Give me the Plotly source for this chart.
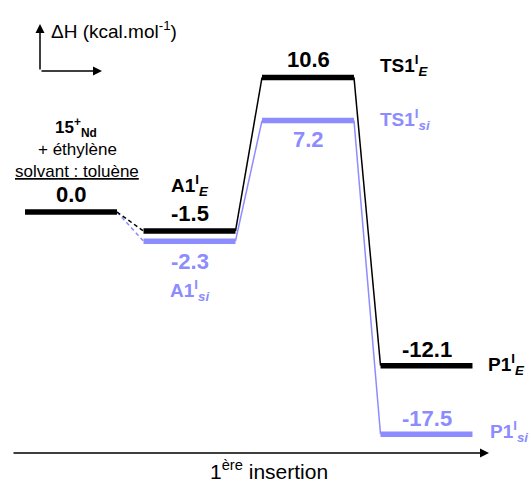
import plotly.graph_objects as go

# ---- data ----
stages = ["15+Nd + éthylène", "A1", "TS1", "P1"]
dH_E = [0.0, -1.5, 10.6, -12.1]      # black pathway (E)
dH_si = [0.0, -2.3, 7.2, -17.5]      # blue pathway (si)
names_E = ["", "A1<sup>I</sup><sub><i>E</i></sub>", "TS1<sup>I</sup><sub><i>E</i></sub>", "P1<sup>I</sup><sub><i>E</i></sub>"]
names_si = ["", "A1<sup>I</sup><sub><i>si</i></sub>", "TS1<sup>I</sup><sub><i>si</i></sub>", "P1<sup>I</sup><sub><i>si</i></sub>"]

BLACK = "#000000"
BLUE = "#8c8cff"
FONT = "Arial, 'Liberation Sans', sans-serif"
W, H = 531, 484
HW = 0.388  # half width of a level bar (stage units)

fig = go.Figure()


def level_trace(vals, idx, color):
    xs, ys = [], []
    for i in idx:
        xs += [i - HW, i + HW, None]
        ys += [vals[i], vals[i], None]
    return go.Scatter(x=xs, y=ys, mode="lines", line=dict(color=color, width=5.5),
                      hoverinfo="skip", showlegend=False)


def connector_traces(vals, color):
    out = []
    for i in range(len(vals) - 1):
        out.append(go.Scatter(x=[i + HW, i + 1 - HW], y=[vals[i], vals[i + 1]], mode="lines",
                              line=dict(color=color, width=1.5, dash="4px,3px" if i == 0 else "solid"),
                              hoverinfo="skip", showlegend=False))
    return out


for t in connector_traces(dH_si, BLUE):
    fig.add_trace(t)
fig.add_trace(level_trace(dH_si, [1, 2, 3], BLUE))
for t in connector_traces(dH_E, BLACK):
    fig.add_trace(t)
fig.add_trace(level_trace(dH_E, [0, 1, 2, 3], BLACK))


def ann(x, y, text, color, size=22, bold=True, xanchor="center", xshift=0, yshift=0):
    fig.add_annotation(x=x, y=y, xref="x", yref="y", text=f"<b>{text}</b>" if bold else text,
                       showarrow=False, xanchor=xanchor, yanchor="middle",
                       xshift=xshift, yshift=yshift,
                       font=dict(family=FONT, size=size, color=color))


# value labels
ann(0, dH_E[0], f"{dH_E[0]:.1f}", BLACK, yshift=18)
ann(1, dH_E[1], f"{dH_E[1]:.1f}", BLACK, yshift=18)
ann(2, dH_E[2], f"{dH_E[2]:.1f}", BLACK, yshift=18)
ann(3, dH_E[3], f"{dH_E[3]:.1f}", BLACK, yshift=16)
ann(1, dH_si[1], f"{dH_si[1]:.1f}", BLUE, yshift=-20)
ann(2, dH_si[2], f"{dH_si[2]:.1f}", BLUE, yshift=-19)
ann(3, dH_si[3], f"{dH_si[3]:.1f}", BLUE, yshift=16)

# species labels
ann(1, dH_E[1], names_E[1], BLACK, size=19, yshift=46)
ann(1, dH_si[1], names_si[1], BLUE, size=19, yshift=-49)
ann(2 + HW, dH_E[2], names_E[2], BLACK, size=19, xanchor="left", xshift=24, yshift=12)
ann(2 + HW, dH_si[2], names_si[2], BLUE, size=19, xanchor="left", xshift=24, yshift=1)
ann(3 + HW, dH_E[3], names_E[3], BLACK, size=19, xanchor="left", xshift=14, yshift=1)
ann(3 + HW, dH_si[3], names_si[3], BLUE, size=19, xanchor="left", xshift=16, yshift=3)


def px(x):
    return x / W


def py(y):
    return 1 - y / H


def paper_text(x, y, text, size, xanchor="center", **font_extra):
    fig.add_annotation(x=px(x), y=py(y), xref="paper", yref="paper", showarrow=False,
                       xanchor=xanchor, yanchor="middle", text=text,
                       font=dict(family=FONT, size=size, color=BLACK, **font_extra))


def paper_arrow(x, y, ax, ay):
    fig.add_annotation(x=px(x), y=py(y), xref="paper", yref="paper", ax=ax, ay=ay,
                       xanchor="center", yanchor="middle",
                       showarrow=True, arrowhead=2, arrowsize=1.2, arrowwidth=1.5,
                       arrowcolor=BLACK, text="")


# top-left axis glyph
paper_arrow(40, 24, 0, 47)
paper_arrow(102, 71, -62, 0)
paper_text(49, 30, "ΔH (kcal.mol<sup>-1</sup>)", 19, xanchor="left")

# reactant description
paper_text(76, 127, "<b>15<sup>+</sup><sub>Nd</sub></b>", 17)
paper_text(77, 150, "+ éthylène", 17)
paper_text(77, 172, "solvant : toluène", 17, lineposition="under")

# bottom reaction-coordinate arrow
paper_arrow(489, 453, -477, 0)
paper_text(269, 470, "1<sup>ère</sup> insertion", 21)

# y scale: 0 -> 212 px, 12.7 px per kcal/mol
y_top = 212 / 12.7
y_bot = (212 - H) / 12.7
x_left = -71 / 118.5
x_right = 3 + (W - 426.5) / 118.5

fig.update_layout(
    width=W, height=H, margin=dict(l=0, r=0, t=0, b=0),
    paper_bgcolor="white", plot_bgcolor="white",
    xaxis=dict(range=[x_left, x_right], visible=False, fixedrange=True),
    yaxis=dict(range=[y_bot, y_top], visible=False, fixedrange=True),
    showlegend=False,
)

fig.write_html("out.html", config={"displayModeBar": False},
               post_script="document.body.style.margin='0px';")
